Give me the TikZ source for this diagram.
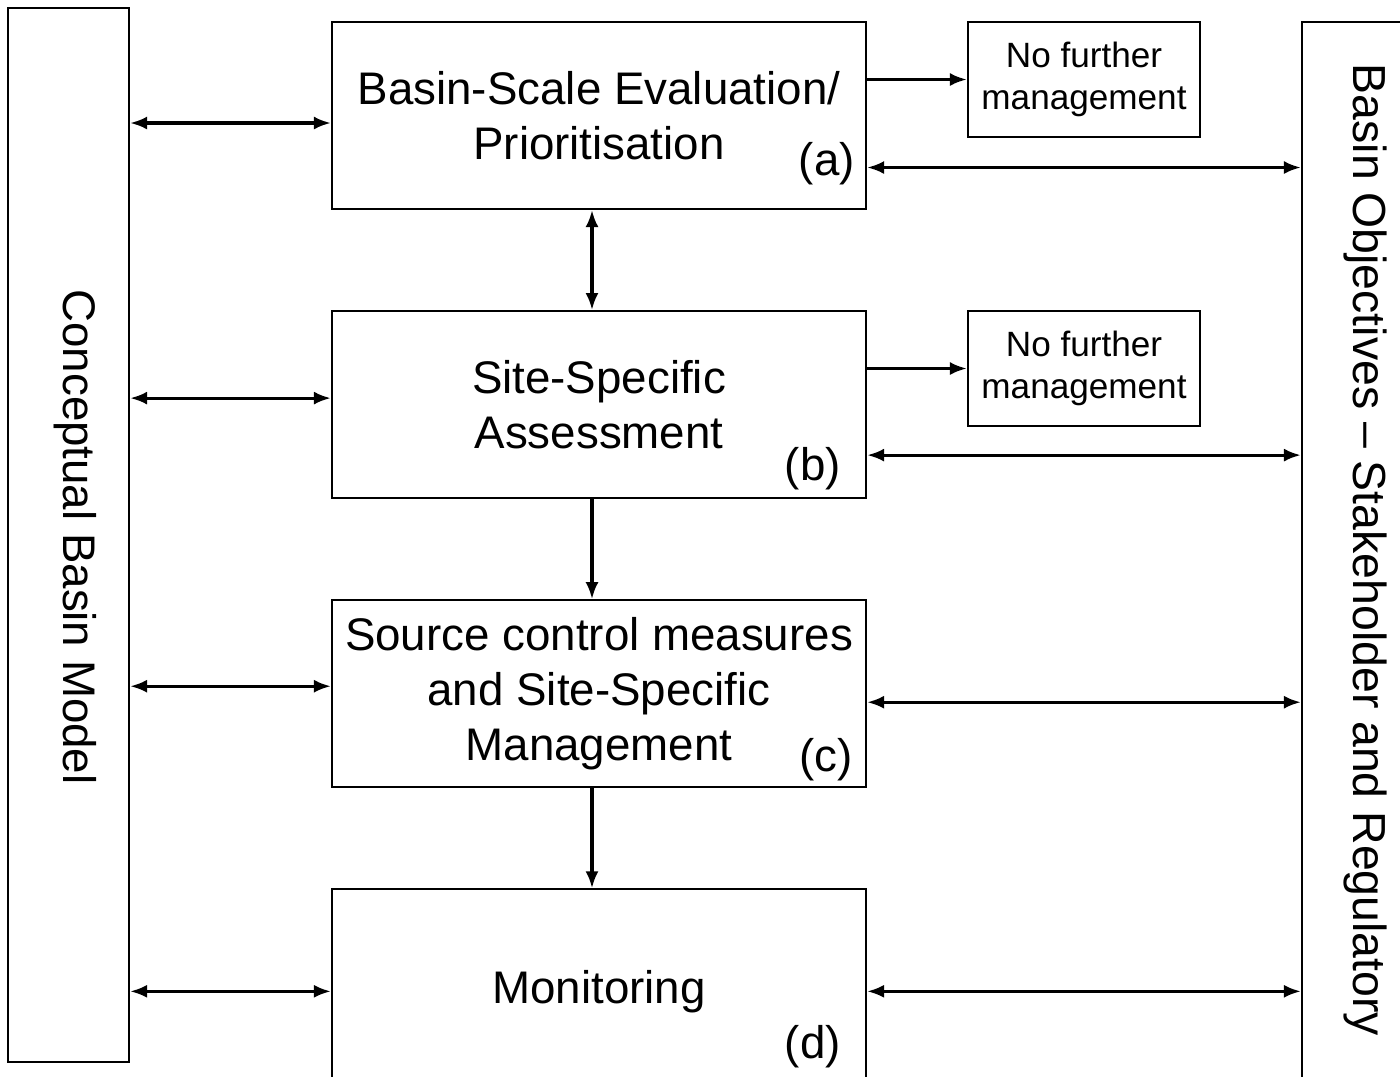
\documentclass[tikz,border=0pt]{standalone}
\usepackage{fontspec}
\setmainfont{Liberation Sans}
\usetikzlibrary{positioning,arrows.meta}

\begin{document}
\begin{tikzpicture}[
box/.style={draw,line width=0.6pt,minimum width=5.34cm,minimum height=1.87cm,align=center,font=\fontsize{13}{15.6}\selectfont},
nfbox/.style={draw,line width=0.6pt,minimum width=2.32cm,minimum height=1.15cm,align=center,font=\fontsize{10}{12}\selectfont},
sidebox/.style={draw,line width=0.6pt,minimum width=1.21cm},
sidetext/.style={rotate=-90,font=\fontsize{13}{15.6}\selectfont},
tag/.style={anchor=base east,font=\fontsize{13}{15.6}\selectfont},
link/.style={line width=0.9pt,>={Latex[length=1.7mm,width=1.3mm]},->},
both/.style={line width=0.9pt,>={Latex[length=1.7mm,width=1.3mm]},<->}]
\useasboundingbox (0,0) rectangle (14,-10.76);
% side columns
\node[sidebox,minimum height=10.54cm] (cbm) at (0.685,-5.35) {};
\node[sidetext] (cbmtext) at (0.75,-5.37) {Conceptual Basin Model};
\node[sidebox,minimum height=10.7cm] (bor) at (13.625,-5.57) {};
\node[sidetext,font=\fontsize{13.2}{15.6}\selectfont] (bortext) at (13.65,-5.5) {Basin Objectives -- Stakeholder and Regulatory};
% main steps
\node[box] (bse) at (5.99,-1.155) {Basin-Scale Evaluation/\\Prioritisation};
\node[box,below=1.0cm of bse] (ssa) {Site-Specific\\Assessment};
\node[box,below=1.0cm of ssa] (scm) {Source control measures\\and Site-Specific\\Management};
\node[box,below=1.0cm of scm,minimum height=2.04cm] (mon) {Monitoring};
\node[tag] (taga) at ([xshift=0cm,yshift=0.35cm]bse.south east) {(a)};
\node[tag] (tagb) at ([xshift=-0.14cm,yshift=0.19cm]ssa.south east) {(b)};
\node[tag] (tagc) at ([xshift=-0.02cm,yshift=0.17cm]scm.south east) {(c)};
\node[tag] (tagd) at ([xshift=-0.14cm,yshift=-0.67cm]mon.east) {(d)};
% exits
\node[nfbox] (nfa) at (10.84,-0.795) {No further\\management};
\node[nfbox] (nfb) at (10.84,-3.685) {No further\\management};
% arrows to the model
\draw[both] ([yshift=-0.075cm]bse.west -| cbm.east) -- ([yshift=-0.075cm]bse.west);
\draw[both] ([yshift=0.065cm]ssa.west -| cbm.east) -- ([yshift=0.065cm]ssa.west);
\draw[both] ([yshift=0.075cm]scm.west -| cbm.east) -- ([yshift=0.075cm]scm.west);
\draw[both] (mon.west -| cbm.east) -- (mon.west);
% arrows down
\draw[both] ([xshift=-0.07cm]bse.south) -- ([xshift=-0.07cm]ssa.north);
\draw[link] ([xshift=-0.07cm]ssa.south) -- ([xshift=-0.07cm]scm.north);
\draw[link] ([xshift=-0.07cm]scm.south) -- ([xshift=-0.07cm]mon.north);
% exits and objectives
\draw[link] (nfa.west -| bse.east) -- (nfa.west);
\draw[link] (nfb.west -| ssa.east) -- (nfb.west);
\coordinate (ra) at ([yshift=-0.52cm]bse.east);
\coordinate (rb) at ([yshift=-0.505cm]ssa.east);
\coordinate (rc) at ([yshift=-0.085cm]scm.east);
\draw[both] (ra) -- (ra -| bor.west);
\draw[both] (rb) -- (rb -| bor.west);
\draw[both] (rc) -- (rc -| bor.west);
\draw[both] (mon.east) -- (mon.east -| bor.west);
\end{tikzpicture}
\end{document}
